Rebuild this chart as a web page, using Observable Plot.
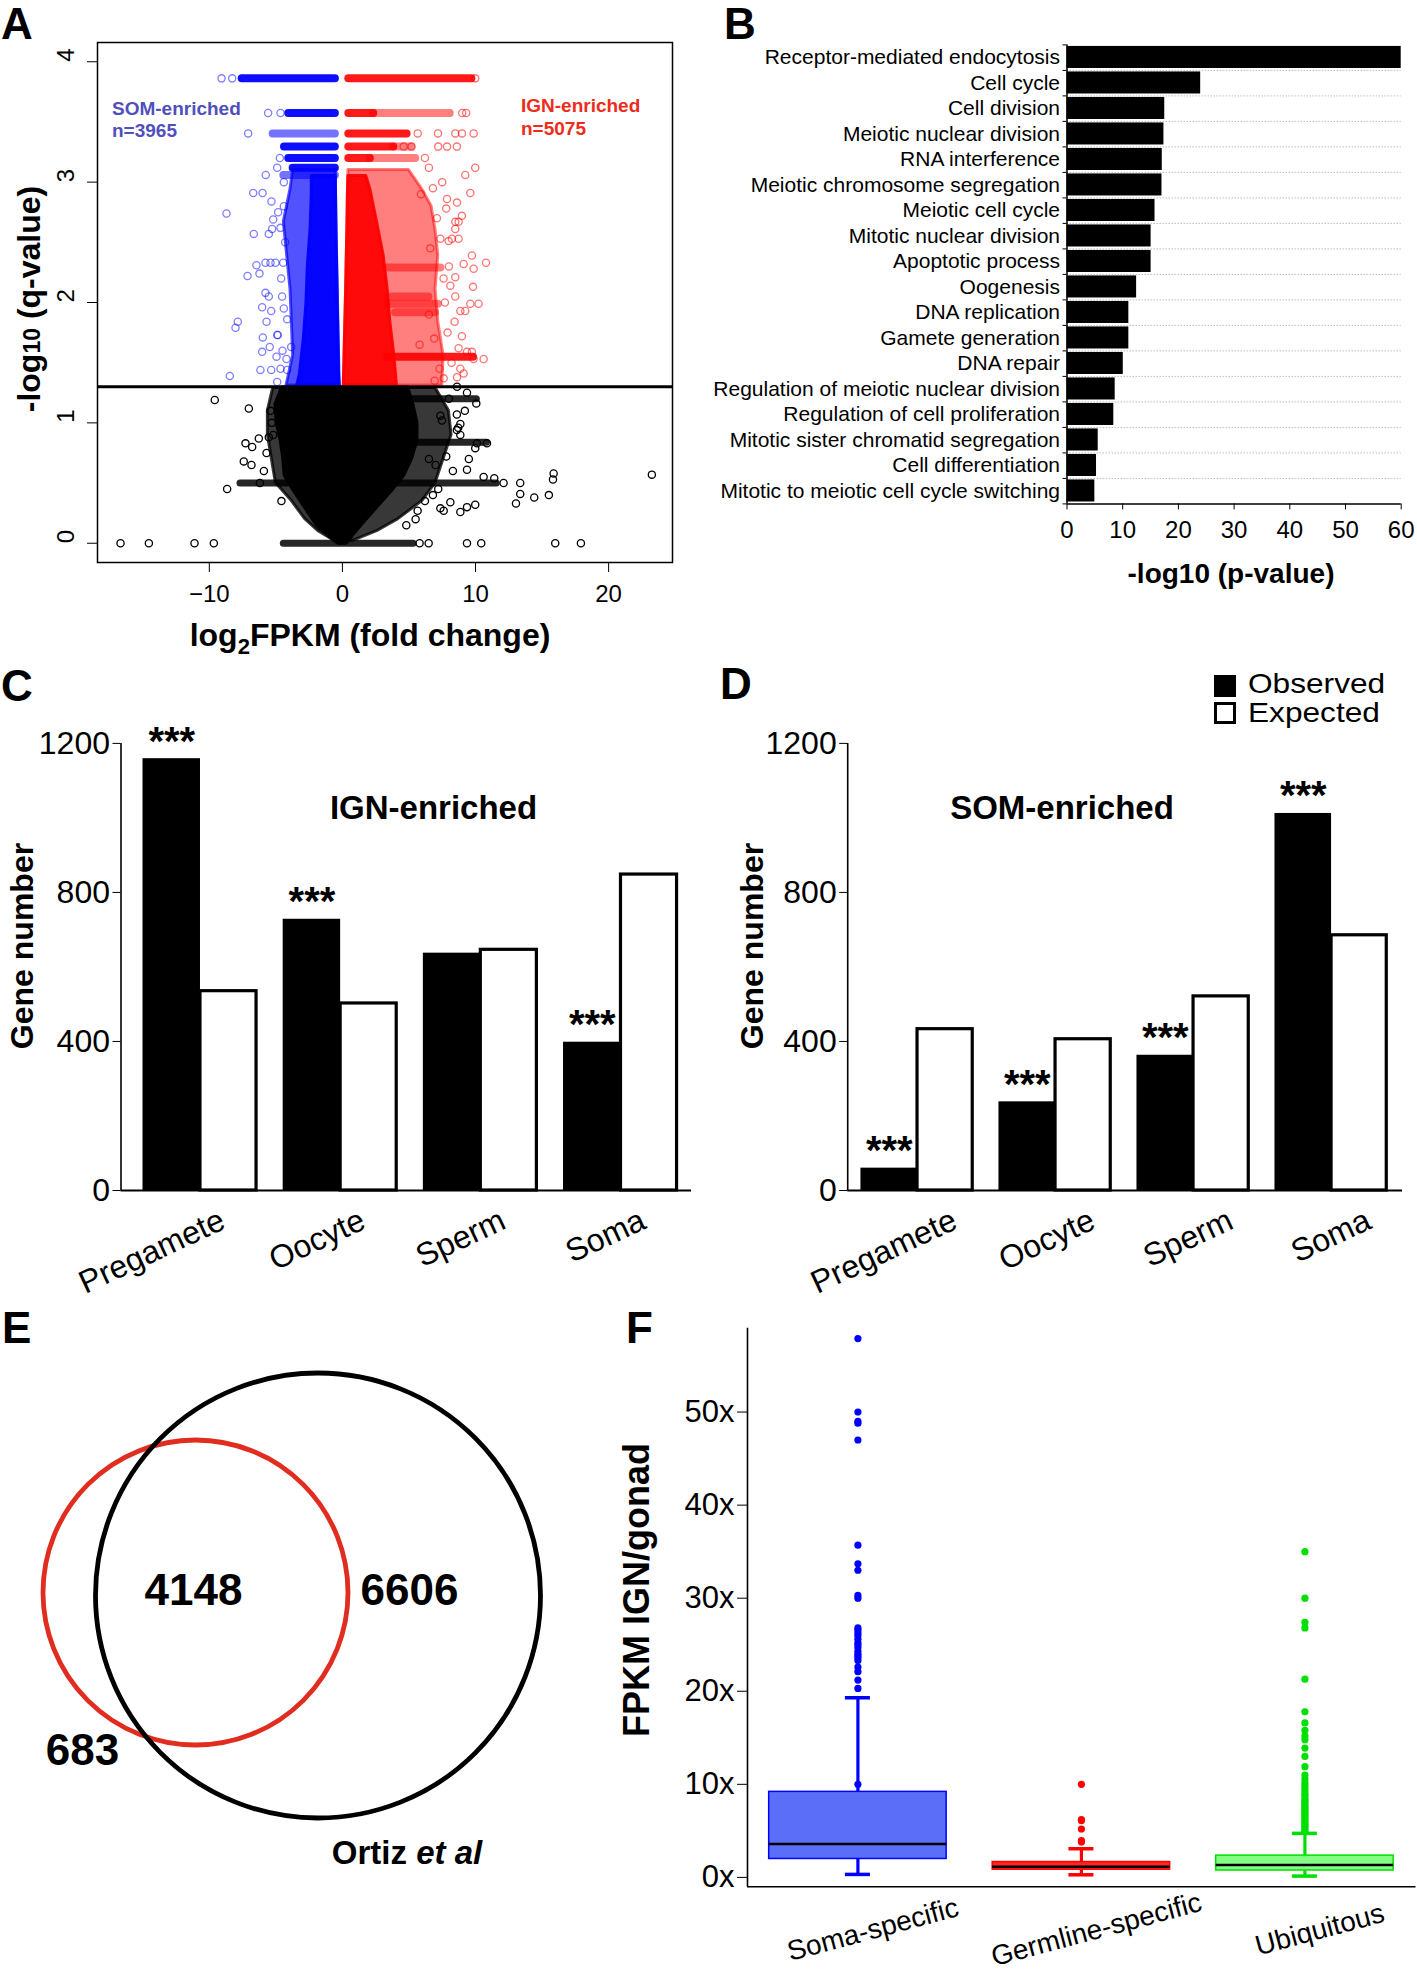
<!DOCTYPE html>
<html>
<head>
<meta charset="utf-8">
<script src="https://cdn.jsdelivr.net/npm/d3@7"></script>
<script src="https://cdn.jsdelivr.net/npm/@observablehq/plot@0.6"></script>
<style>
html,body{margin:0;padding:0;background:#fff;}
#fig{position:relative;width:1417px;height:1971px;overflow:hidden;background:#fff;font-family:"Liberation Sans",Arial,Helvetica,sans-serif;color:#000;}
.t{position:absolute;white-space:nowrap;line-height:1;}
.letter{font-weight:bold;font-size:44px;}
.plot{position:absolute;}
</style>
</head>
<body>
<div id="fig"></div>
<script>
// ================= DATA =================
// ---- Panel A : volcano plot (log2 fold change vs -log10 q) ----
const aXTicks = [-10, 0, 10, 20];
const aYTicks = [0, 1, 2, 3, 4];
const qThreshold = 1.301;            // -log10(0.05)
const somCount = 3965;
const ignCount = 5075;
// dense (solid) envelopes: [y, xLeft, xRight]
const blackCore = [[1.29,-4.5,4.9],[1.15,-5.0,5.3],[1.0,-4.9,5.6],[0.85,-4.6,5.6],[0.7,-4.4,5.2],[0.56,-4.3,4.6],[0.45,-3.7,3.8],[0.35,-3.1,3.0],[0.25,-2.5,2.2],[0.15,-1.9,1.4],[0.07,-1.1,0.8],[0.0,-0.3,0.3]];
const blackHalo = [[1.29,-5.2,7.0],[1.1,-5.6,8.0],[0.9,-5.6,8.2],[0.7,-5.3,7.6],[0.5,-5.0,7.0],[0.35,-3.8,6.0],[0.2,-2.8,4.2],[0.1,-1.8,2.6],[0.02,-0.6,0.8]];
const blueCore = [[3.05,-2.3,-0.5],[2.9,-2.3,-0.48],[2.6,-2.4,-0.45],[2.3,-2.6,-0.4],[2.0,-2.7,-0.35],[1.7,-2.9,-0.3],[1.4,-3.2,-0.25],[1.31,-3.4,-0.2]];
const blueHalo = [[3.1,-3.7,-0.5],[2.94,-3.9,-0.48],[2.67,-4.4,-0.45],[2.39,-4.15,-0.4],[2.11,-3.9,-0.35],[1.84,-3.8,-0.3],[1.56,-3.7,-0.25],[1.31,-4.2,-0.2]];
const redCore = [[3.05,0.45,1.8],[2.94,0.42,2.1],[2.67,0.38,2.6],[2.39,0.33,3.1],[2.11,0.28,3.4],[1.84,0.22,3.6],[1.56,0.16,3.9],[1.31,0.1,4.1]];
const redHalo = [[3.1,0.45,5.0],[2.94,0.42,6.0],[2.8,0.4,6.7],[2.6,0.38,7.0],[2.39,0.33,7.2],[2.11,0.28,7.0],[1.84,0.22,7.2],[1.56,0.16,7.6],[1.31,0.1,7.5]];
// horizontal rows of many overlapping genes: [y, xFrom, xTo]
const blackRows = [[0,-4.4,5.35],[1.2,4.5,10.1],[0.84,4.5,10.86],[0.5,4.0,11.6],[0.5,-7.66,-4.0]];
const blueRowsDense = [[3.862,-7.53,-0.53],[3.574,-4.03,-0.53],[3.295,-4.35,-0.53],[3.2,-4.03,-0.53],[3.12,-3.7,-0.53]];
const blueRowsSparse = [[3.405,-5.2,-0.53],[3.06,-4.4,-0.53]];
const redRowsDense = [[3.862,0.48,9.73],[3.574,0.48,2.35],[3.405,0.48,4.86],[3.295,0.48,3.86],[3.2,0.48,2.1],[1.55,3.4,9.85]];
const redRowsSparse = [[3.574,2.35,8.1],[3.295,3.86,5.2],[3.2,2.1,5.5],[2.29,3.4,7.4],[1.99,3.4,7.2],[1.92,4.0,7.0],[2.05,3.5,6.5]];
// individual scattered genes: [x, y]
const blackDots = [[-16.67,0],[-14.54,0],[-11.11,0],[-9.66,0],[-9.59,1.19],[-7.03,1.12],[-7.28,0.83],[-6.78,0.8],[-6.28,0.87],[-5.53,0.88],[-7.41,0.68],[-6.83,0.65],[-8.66,0.45],[-4.58,0.35],[-5.4,1.1],[-5.3,1.0],[-5.2,0.9],[-5.9,0.6],[-6.2,0.5],[-5.7,0.75],
 [5.8,0],[6.48,0],[9.36,0],[10.43,0],[15.99,0],[17.92,0],[23.25,0.57],[15.87,0.58],[15.82,0.53],[13.36,0.5],[13.36,0.41],[12.11,0.5],[14.41,0.38],[15.51,0.4],[13.04,0.33],[11.41,0.54],[10.86,0.83],[9.98,0.79],[10.11,0.83],[10.06,1.16],[9.36,1.25],[8.61,1.3],[9.2,1.1],[8.6,1.07],[8.86,0.99],[8.7,0.96],[8.6,0.94],[8.86,0.9],[7.36,1.06],[7.48,1.02],[9.36,0.61],[10.61,0.55],[9.98,0.32],[9.36,0.3],[8.86,0.26],[8.11,0.34],[7.61,0.27],[7.36,0.29],[5.65,0.27],[6.5,0.7],[7.0,0.65],[7.8,0.72],[8.3,0.6],[6.8,0.4],[6.2,0.35],[5.5,0.2],[4.8,0.15],[7.2,0.45],[8.0,1.2],[9.5,0.7]];
const blueDots = [[-9.08,3.862],[-8.28,3.862],[-5.58,3.574],[-4.65,3.574],[-7.08,3.405],[-4.7,3.2],[-4.9,3.12],[-5.76,3.06],[-6.7,2.91],[-6.0,2.91],[-5.33,2.84],[-8.71,2.74],[-4.83,2.75],[-5.2,2.69],[-6.66,2.57],[-5.53,2.57],[-5.28,2.61],[-4.65,2.62],[-5.78,2.33],[-5.4,2.33],[-5.03,2.33],[-4.45,2.33],[-6.46,2.31],[-7.13,2.22],[-6.23,2.24],[-5.78,2.08],[-5.53,2.05],[-4.53,2.05],[-6.03,1.96],[-5.35,1.93],[-4.15,1.86],[-7.86,1.84],[-8.03,1.79],[-5.7,1.84],[-4.9,1.73],[-4.85,1.73],[-5.98,1.71],[-5.46,1.63],[-6.03,1.59],[-3.85,1.63],[-4.95,1.55],[-4.2,1.53],[-6.16,1.44],[-5.35,1.44],[-4.65,1.45],[-4.15,1.44],[-8.46,1.39],[-4.9,1.34],[-4.4,3.0],[-4.3,2.5],[-4.6,2.2],[-4.4,1.95],[-4.5,1.6],[-4.4,2.8]];
const redDots = [[5.66,3.405],[7.18,3.405],[8.48,3.405],[8.98,3.405],[9.86,3.405],[4.6,3.295],[5.2,3.295],[7.2,3.295],[7.86,3.295],[8.6,3.295],[9.0,3.574],[9.3,3.574],[9.98,3.862],
 [9.98,3.12],[9.23,3.06],[9.61,2.91],[8.61,2.83],[7.86,2.86],[8.98,2.72],[8.48,2.67],[8.73,2.67],[8.48,2.61],[8.23,2.53],[8.73,2.53],[7.36,2.53],[7.98,2.51],[9.73,2.39],[10.79,2.33],[9.11,2.32],[9.86,2.28],[8.48,2.21],[8.11,2.14],[9.81,2.13],[8.48,2.05],[9.61,1.99],[10.23,1.99],[8.86,1.93],[9.23,1.93],[8.43,1.84],[8.98,1.72],[8.73,1.62],[9.36,1.59],[9.73,1.59],[9.86,1.53],[10.61,1.53],[8.86,1.45],[8.61,1.38],[9.11,1.41],[7.61,1.37],[6.93,1.35],
 [6.5,3.12],[7.5,3.0],[6.8,2.95],[7.8,2.78],[7.1,2.7],[6.6,2.45],[7.6,2.2],[7.9,1.75],[6.9,1.7],[7.3,1.45],[8.2,1.5],[7.7,2.0],[8.0,2.3],[6.5,1.9],[5.8,1.65],[6.2,3.2],[5.9,2.9]];

// ---- Panel B : GO terms ----
const goTerms = ["Receptor-mediated endocytosis","Cell cycle","Cell division","Meiotic nuclear division","RNA interference","Meiotic chromosome segregation","Meiotic cell cycle","Mitotic nuclear division","Apoptotic process","Oogenesis","DNA replication","Gamete generation","DNA repair","Regulation of meiotic nuclear division","Regulation of cell proliferation","Mitotic sister chromatid segregation","Cell differentiation","Mitotic to meiotic cell cycle switching"];
const goLogP = [60, 24, 17.55, 17.4, 17.1, 17.05, 15.8, 15.1, 15.1, 12.5, 11.1, 11.1, 10.1, 8.65, 8.4, 5.6, 5.3, 5.0];
const goTicks = [0, 10, 20, 30, 40, 50, 60];

// ---- Panels C & D : observed vs expected gene numbers ----
const enrichCats = ["Pregamete", "Oocyte", "Sperm", "Soma"];
const ignObserved = [1159, 728, 637, 398];
const ignExpected = [535, 502, 646, 848];
const ignSignif = [true, true, false, true];
const somObserved = [60, 238, 363, 1012];
const somExpected = [433, 406, 521, 685];
const somSignif = [true, true, true, true];
const geneTicks = [0, 400, 800, 1200];

// ---- Panel E : Venn counts ----
const vennRegions = ["IGN only", "Both", "Ortiz et al only"];
const vennCounts = [683, 4148, 6606];

// ---- Panel F : boxplots of FPKM IGN/gonad ----
const boxGroups = ["Soma-specific", "Germline-specific", "Ubiquitous"];
const boxLow = [0.32, 0.28, 0.14];
const boxQ1 = [1.98, 0.83, 0.74];
const boxMedian = [3.58, 1.15, 1.33];
const boxQ3 = [9.19, 1.65, 2.34];
const boxHigh = [19.3, 3.08, 4.73];
const somaOutliers = [10.0, 20.3, 21.2, 22.1, 22.6, 23.3, 23.6, 23.8, 24.0, 24.3, 24.7, 25.0, 25.2, 25.6, 26.0, 26.3, 26.6, 26.8, 30.0, 30.3, 33.0, 33.7, 35.7, 47.0, 48.8, 49.0, 50.0, 57.9];
const germOutliers = [3.8, 3.95, 5.2, 6.1, 6.2, 10.0];
const ubiqOutliers = [4.9, 5.1, 5.3, 5.5, 5.7, 5.9, 6.1, 6.3, 6.5, 6.7, 6.9, 7.1, 7.3, 7.5, 7.7, 7.9, 8.1, 8.3, 8.5, 8.8, 9.0, 9.3, 9.6, 9.9, 10.2, 10.6, 11.0, 11.9, 13.0, 13.9, 14.8, 15.2, 15.8, 16.6, 17.8, 21.3, 26.8, 27.4, 30.0, 35.0];
const foldTicks = [0, 10, 20, 30, 40, 50];

// ================= STYLE / LAYOUT =================
const FONT = '"Liberation Sans", Arial, Helvetica, sans-serif';
const BLUE = "#0000ff", RED = "#ff0000";
const fig = document.getElementById("fig");
function mount(svg, left, top) {
  svg.classList.add("plot");
  svg.style.left = left + "px";
  svg.style.top = top + "px";
  fig.appendChild(svg);
}
function text(html, opts) {
  const d = document.createElement("div");
  d.className = "t" + (opts.cls ? " " + opts.cls : "");
  d.innerHTML = html;
  const s = d.style;
  if (opts.size) s.fontSize = opts.size + "px";
  if (opts.bold) s.fontWeight = "bold";
  if (opts.color) s.color = opts.color;
  if (opts.lh) s.lineHeight = opts.lh;
  if (opts.cx !== undefined) {
    s.left = opts.cx + "px"; s.top = opts.cy + "px";
    s.transform = "translate(-50%,-50%)" + (opts.rotate ? ` rotate(${opts.rotate}deg)` : "");
  } else {
    s.left = opts.left + "px"; s.top = opts.top + "px";
    if (opts.cy !== undefined) { s.top = opts.cy + "px"; s.transform = "translateY(-50%)"; }
    if (opts.sx) { s.transform = (s.transform || "") + ` scaleX(${opts.sx})`; s.transformOrigin = "left center"; }
  }
  fig.appendChild(d);
  return d;
}
const plotStyle = {fontFamily: FONT, background: "transparent", overflow: "visible", color: "#000"};
const env = (data, color, opacity, sw) => Plot.areaX(data, {y: d => d[0], x1: d => d[1], x2: d => d[2], fill: color, fillOpacity: opacity, stroke: color, strokeOpacity: opacity, strokeWidth: sw, strokeLinejoin: "round"});
const rows = (data, color, opacity, w = 8) => Plot.ruleY(data, {y: d => d[0], x1: d => d[1], x2: d => d[2], stroke: color, strokeOpacity: opacity, strokeWidth: w, strokeLinecap: "round"});
const rings = (data, color, opacity) => Plot.dot(data, {x: d => d[0], y: d => d[1], r: 3.6, stroke: color, strokeOpacity: opacity, strokeWidth: 1.3, fill: "none"});

// ================= PANEL A =================
mount(Plot.plot({
  width: 700, height: 660,
  marginLeft: 97, marginRight: 28, marginTop: 42, marginBottom: 98,
  style: plotStyle,
  x: {domain: [-18.4, 24.8]},
  y: {domain: [-0.16, 4.16]},
  marks: [
    env(blackHalo, "#000", 0.78, 3),
    env(blackCore, "#000", 1, 4),
    rows(blackRows, "#000", 0.85, 7),
    rings(blackDots, "#000", 1),
    env(blueHalo, BLUE, 0.68, 3),
    env(blueCore, BLUE, 0.95, 3),
    rows(blueRowsDense, BLUE, 0.95),
    rows(blueRowsSparse, BLUE, 0.55),
    rings(blueDots, BLUE, 0.5),
    env(redHalo, RED, 0.5, 3),
    env(redCore, RED, 0.92, 3),
    rows(redRowsDense, RED, 0.9),
    rows(redRowsSparse, RED, 0.5),
    rings(redDots, RED, 0.55),
    Plot.ruleY([qThreshold], {stroke: "#000", strokeWidth: 3}),
    Plot.frame({stroke: "#000", strokeWidth: 1.5}),
    Plot.axisX({ticks: aXTicks, tickSize: 10, tickPadding: 12, fontSize: 24, label: null}),
    Plot.axisY({ticks: aYTicks, tickSize: 10, tickFormat: () => "", label: null}),
    Plot.text(aYTicks, {y: d => d, text: d => String(d), frameAnchor: "left", dx: -31, rotate: -90, fontSize: 24})
  ]
}), 0, 0);
text("A", {left: 1, top: 2, cls: "letter"});
text("SOM-enriched", {left: 112, cy: 108, size: 19, bold: true, color: "#4f4fbd"});
text("n=" + somCount, {left: 112, cy: 130, size: 19, bold: true, color: "#4f4fbd"});
text("IGN-enriched", {left: 521, cy: 105, size: 19, bold: true, color: "#ee2c1c"});
text("n=" + ignCount, {left: 521, cy: 128, size: 19, bold: true, color: "#ee2c1c"});
text('log<span style="font-size:22px;position:relative;top:8px">2</span>FPKM (fold change)', {cx: 370, cy: 635, size: 32, bold: true});
text('-log<span style="font-size:23px">10</span> (q-value)', {cx: 29, cy: 299, size: 32, bold: true, rotate: -90});

// ================= PANEL B =================
const bRows = goTerms.map((term, i) => ({term, value: goLogP[i], row: i}));
const bBounds = d3.range(goTerms.length + 1);
mount(Plot.plot({
  width: 727, height: 600,
  marginLeft: 376.5, marginRight: 16.3, marginTop: 44.4, marginBottom: 96.6,
  style: plotStyle,
  x: {domain: [0, 60]},
  y: {domain: [0, goTerms.length], reverse: true},
  marks: [
    Plot.ruleY(bBounds.slice(1, -1), {x1: 0, x2: 60, stroke: "#bdbdbd", strokeWidth: 1, strokeDasharray: "1.5,1.5"}),
    Plot.rect(bRows, {x1: 0, x2: "value", y1: d => d.row + 0.06, y2: d => d.row + 0.925, fill: "#000"}),
    Plot.ruleX([0], {y1: 0, y2: goTerms.length, stroke: "#000", strokeWidth: 1.5}),
    Plot.ruleY([goTerms.length], {x1: 0, x2: 60, stroke: "#000", strokeWidth: 1.5}),
    Plot.axisY({ticks: bBounds, tickSize: 4, tickFormat: () => "", label: null}),
    Plot.axisX({ticks: goTicks, tickSize: 6, tickPadding: 11, fontSize: 24, label: null}),
    Plot.text(bRows, {x: 0, y: d => d.row + 0.5, text: "term", textAnchor: "end", dx: -7, fontSize: 21})
  ]
}), 690, 0);
text("B", {left: 724, top: 2, cls: "letter"});
text("-log10 (p-value)", {cx: 1231, cy: 574, size: 28, bold: true});

// ================= PANELS C & D =================
function barPanel(obs, exp, sig, cfg) {
  const data = enrichCats.map((cat, i) => ({cat, i, obs: obs[i], exp: exp[i], sig: sig[i]}));
  return Plot.plot({
    width: cfg.width, height: 600,
    marginLeft: cfg.marginLeft, marginRight: cfg.marginRight, marginTop: 22.9, marginBottom: 130,
    style: plotStyle,
    x: {domain: cfg.xdomain, axis: null},
    y: {domain: [0, 1200]},
    marks: [
      Plot.rect(data, {x1: d => d.i - 0.41, x2: d => d.i, y1: 0, y2: "obs", fill: "#000"}),
      Plot.rect(data, {x1: d => d.i, x2: d => d.i + 0.4, y1: 0, y2: "exp", fill: "#fff", stroke: "#000", strokeWidth: 3.2}),
      Plot.ruleX([cfg.xdomain[0]], {y1: 0, y2: 1200, stroke: "#000", strokeWidth: 1.6}),
      Plot.ruleY([0], {stroke: "#000", strokeWidth: 1.8}),
      Plot.axisY({ticks: geneTicks, tickSize: 8, tickPadding: 3, fontSize: 32, tickFormat: d => String(d), label: null}),
      Plot.text(data.filter(d => d.sig), {x: d => d.i - 0.205, y: "obs", text: () => "***", fontSize: 40, fontWeight: "bold", lineAnchor: "bottom", dy: -4}),
      Plot.text(data, {x: d => d.i + cfg.labelOffset, y: 0, text: "cat", dy: 28, rotate: -25, textAnchor: "end", lineAnchor: "middle", fontSize: 32})
    ]
  });
}
mount(barPanel(ignObserved, ignExpected, ignSignif, {width: 700, marginLeft: 120.5, marginRight: 9, xdomain: [-0.567, 3.503], labelOffset: 0.16}), 0, 720);
mount(barPanel(somObserved, somExpected, somSignif, {width: 717, marginLeft: 147.2, marginRight: 15, xdomain: [-0.506, 3.514], labelOffset: 0.27}), 700, 720);
text("C", {left: 1, top: 664, cls: "letter"});
text("D", {left: 720, top: 662, cls: "letter"});
text("IGN-enriched", {cx: 433.5, cy: 807, size: 33, bold: true});
text("SOM-enriched", {cx: 1062, cy: 807, size: 33, bold: true});
text("Gene number", {cx: 22, cy: 946, size: 32, bold: true, rotate: -90});
text("Gene number", {cx: 752, cy: 946, size: 32, bold: true, rotate: -90});
// legend
(function () {
  const sq1 = document.createElement("div");
  sq1.style.cssText = "position:absolute;left:1214px;top:675px;width:22px;height:22px;background:#000;";
  const sq2 = document.createElement("div");
  sq2.style.cssText = "position:absolute;left:1214px;top:702px;width:16px;height:16px;border:3px solid #000;background:#fff;";
  fig.appendChild(sq1); fig.appendChild(sq2);
})();
text("Observed", {left: 1248, cy: 684, size: 28, sx: 1.13});
text("Expected", {left: 1248, cy: 713, size: 28, sx: 1.13});

// ================= PANEL E =================
const vennLayout = {circles: [
  {set: "IGN-enriched", cx: 195, cy: 302, r: 152.5, color: "#e12d1f"},
  {set: "Ortiz et al", cx: 317.5, cy: 305, r: 222.5, color: "#000"}
], labels: [[82, 460], [193, 300], [409, 300]]};
const vennText = vennCounts.map((c, i) => ({region: vennRegions[i], count: c, x: vennLayout.labels[i][0], y: vennLayout.labels[i][1]}));
mount(Plot.plot({
  width: 600, height: 620, margin: 0,
  style: plotStyle,
  x: {domain: [0, 600], range: [0, 600], axis: null},
  y: {domain: [0, 620], range: [0, 620], axis: null},
  marks: [
    Plot.dot(vennLayout.circles.slice(0, 1), {x: "cx", y: "cy", r: vennLayout.circles[0].r, stroke: vennLayout.circles[0].color, strokeWidth: 4.8, fill: "none"}),
    Plot.dot(vennLayout.circles.slice(1), {x: "cx", y: "cy", r: vennLayout.circles[1].r, stroke: vennLayout.circles[1].color, strokeWidth: 4.8, fill: "none"}),
    Plot.text(vennText, {x: "x", y: "y", text: d => String(d.count), fontSize: 44, fontWeight: "bold"})
  ]
}), 0, 1290);
text("E", {left: 2, top: 1306, cls: "letter"});
text('Ortiz <i>et al</i>', {cx: 407, cy: 1852, size: 33, bold: true});

// ================= PANEL F =================
const boxFill = ["#5b6ef7", "#ff2424", "#84ff84"];
const boxLine = ["#0000ff", "#ff0000", "#00e000"];
const fRows = boxGroups.map((g, i) => ({g, i, lo: boxLow[i], q1: boxQ1[i], med: boxMedian[i], q3: boxQ3[i], hi: boxHigh[i]}));
const fOut = [
  ...somaOutliers.map(v => ({i: 0, v})),
  ...germOutliers.map(v => ({i: 1, v})),
  ...ubiqOutliers.map(v => ({i: 2, v}))
];
const fX = [-0.494, 2.497], fY = [-1.0, 59];
mount(Plot.plot({
  width: 817, height: 681,
  marginLeft: 147, marginRight: 1.5, marginTop: 37.8, marginBottom: 84.8,
  style: plotStyle,
  x: {domain: fX, axis: null},
  y: {domain: fY},
  marks: [
    Plot.ruleX(fRows, {x: "i", y1: "q3", y2: "hi", stroke: d => boxLine[d.i], strokeWidth: 3.2}),
    Plot.ruleX(fRows, {x: "i", y1: "lo", y2: "q1", stroke: d => boxLine[d.i], strokeWidth: 3.2}),
    Plot.ruleY(fRows, {y: "hi", x1: d => d.i - 0.056, x2: d => d.i + 0.056, stroke: d => boxLine[d.i], strokeWidth: 3.5}),
    Plot.ruleY(fRows, {y: "lo", x1: d => d.i - 0.056, x2: d => d.i + 0.056, stroke: d => boxLine[d.i], strokeWidth: 3.5}),
    Plot.rect(fRows, {x1: d => d.i - 0.397, x2: d => d.i + 0.397, y1: "q1", y2: "q3", fill: d => boxFill[d.i], stroke: d => boxLine[d.i], strokeWidth: 1.5}),
    Plot.ruleY(fRows, {y: "med", x1: d => d.i - 0.397, x2: d => d.i + 0.397, stroke: "#000", strokeWidth: 2.5}),
    Plot.dot(fOut, {x: "i", y: "v", r: 3.6, fill: d => boxLine[d.i]}),
    Plot.ruleX([fX[0]], {y1: fY[0], y2: fY[1], stroke: "#000", strokeWidth: 1.6}),
    Plot.ruleY([fY[0]], {x1: fX[0], x2: fX[1], stroke: "#000", strokeWidth: 1.6}),
    Plot.axisY({ticks: foldTicks, tickSize: 10, tickPadding: 3, fontSize: 31, tickFormat: d => d + "x", label: null}),
    Plot.text(fRows, {x: "i", y: fY[0], text: "g", dy: 43, dx: 15, rotate: -15, fontSize: 28})
  ]
}), 600, 1290);
text("F", {left: 626, top: 1306, cls: "letter"});
text("FPKM IGN/gonad", {cx: 636.5, cy: 1590, size: 36, bold: true, rotate: -90});
</script>
</body>
</html>
